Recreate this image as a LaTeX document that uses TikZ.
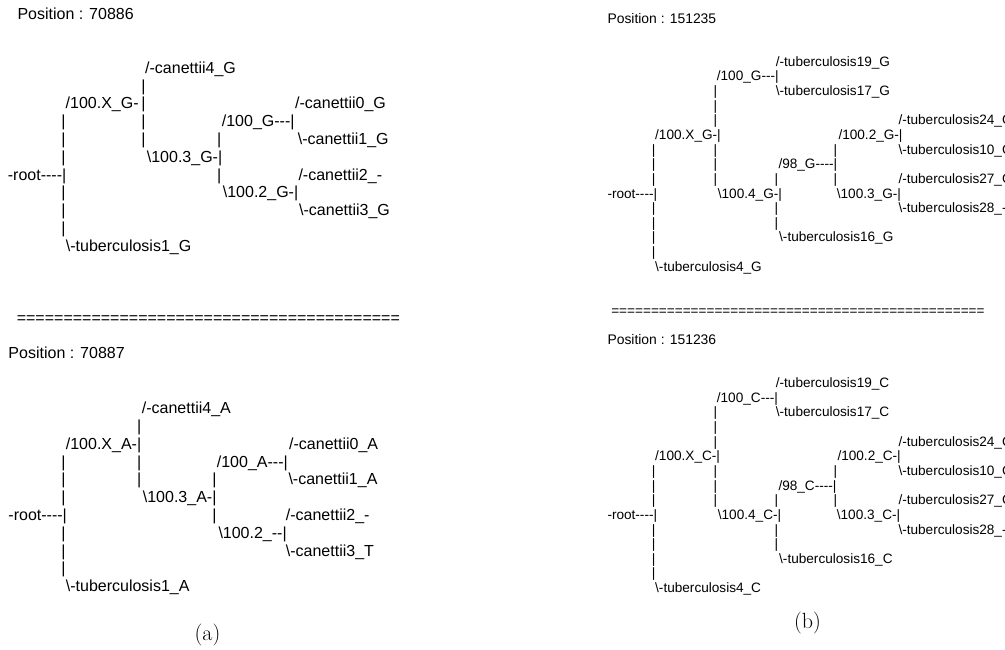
\documentclass[tikz,border=0pt]{standalone}
\usepackage{fontspec}
\newfontfamily\asc{Liberation Sans}
\newcommand\bs{\textbackslash}
\newcommand\fr[5]{\node[#1] (#2) at (#3,{\rbase+\rstep*(#4)}) {#5};}
\tikzset{
  L/.style={font=\asc\fontsize{16}{17}\selectfont, inner sep=0pt, anchor=base west},
  R/.style={font=\asc\fontsize{13.6}{15}\selectfont, inner sep=0pt, anchor=base west},
  P/.style={font=\asc\fontsize{13.9}{15}\selectfont, inner sep=0pt, anchor=base west},
  captext/.style={font=\fontsize{22}{24}\selectfont, inner sep=0pt, anchor=base},
}
\begin{document}
\begin{tikzpicture}[x=1pt,y=-1pt]
\useasboundingbox (0,0) rectangle (1005,649);
\clip (0,0) rectangle (1005,649);
% ---------------- left top ----------------
\node[L] (plt) at (17.3,19.8) {Position : 70886};
\def\rbase{73.3}\def\rstep{17.8}
\fr{L}{lt0}{145}{0}{/-canettii4\_G}
\fr{L}{lt1a}{141.2}{1}{|}
\fr{L}{lt2a}{65.5}{2}{/100.X\_G-}
\fr{L}{lt2b}{141.2}{2}{|}
\fr{L}{lt2c}{295}{2}{/-canettii0\_G}
\fr{L}{lt3a}{61.2}{3}{|}
\fr{L}{lt3b}{141.2}{3}{|}
\fr{L}{lt3c}{221.7}{3}{/100\_G---|}
\fr{L}{lt4a}{61.2}{4}{|}
\fr{L}{lt4b}{141.2}{4}{|}
\fr{L}{lt4c}{217}{4}{|}
\fr{L}{lt4d}{297.7}{4}{\bs-canettii1\_G}
\fr{L}{lt5a}{61.2}{5}{|}
\fr{L}{lt5b}{146.7}{5}{\bs100.3\_G-|}
\fr{L}{lt6a}{7.7}{6}{-root----|}
\fr{L}{lt6b}{217}{6}{|}
\fr{L}{lt6c}{298.3}{6}{/-canettii2\_-}
\fr{L}{lt7a}{61.2}{7}{|}
\fr{L}{lt7b}{222.7}{7}{\bs100.2\_G-|}
\fr{L}{lt8a}{61.2}{8}{|}
\fr{L}{lt8b}{299}{8}{\bs-canettii3\_G}
\fr{L}{lt9a}{61.2}{9}{|}
\fr{L}{lt10}{65.7}{10}{\bs-tuberculosis1\_G}
\node[L] (eql) at (16.6,323.4) {=========================================};
% ---------------- left bottom ----------------
\node[L] (plb) at (8.3,358.8) {Position : 70887};
\def\rbase{413.7}
\fr{L}{lb0}{141.7}{0}{/-canettii4\_A}
\fr{L}{lb1a}{137}{1}{|}
\fr{L}{lb2a}{65.7}{2}{/100.X\_A-|}
\fr{L}{lb2c}{289}{2}{/-canettii0\_A}
\fr{L}{lb3a}{61.2}{3}{|}
\fr{L}{lb3b}{137}{3}{|}
\fr{L}{lb3c}{216.7}{3}{/100\_A---|}
\fr{L}{lb4a}{61.2}{4}{|}
\fr{L}{lb4b}{137}{4}{|}
\fr{L}{lb4c}{212.2}{4}{|}
\fr{L}{lb4d}{288.3}{4}{\bs-canettii1\_A}
\fr{L}{lb5a}{61.2}{5}{|}
\fr{L}{lb5b}{142.7}{5}{\bs100.3\_A-|}
\fr{L}{lb6a}{8.3}{6}{-root----|}
\fr{L}{lb6b}{212.2}{6}{|}
\fr{L}{lb6c}{285.7}{6}{/-canettii2\_-}
\fr{L}{lb7a}{61.2}{7}{|}
\fr{L}{lb7b}{218.3}{7}{\bs100.2\_--|}
\fr{L}{lb8a}{61.2}{8}{|}
\fr{L}{lb8b}{285.7}{8}{\bs-canettii3\_T}
\fr{L}{lb9a}{61.2}{9}{|}
\fr{L}{lb10}{65.7}{10}{\bs-tuberculosis1\_A}
\node[captext] (capa) at (207.5,640.5) {(a)};
% ---------------- right top ----------------
\node[P] (prt) at (607.3,23.3) {Position : 151235};
\def\rbase{66.3}\def\rstep{14.64}
\fr{R}{rt0}{775.7}{0}{/-tuberculosis19\_G}
\fr{R}{rt1}{716.7}{1}{/100\_G---|}
\fr{R}{rt2a}{713.3}{2}{|}
\fr{R}{rt2b}{775.7}{2}{\bs-tuberculosis17\_G}
\fr{R}{rt3a}{713.3}{3}{|}
\fr{R}{rt4a}{713.3}{4}{|}
\fr{R}{rt4b}{898.3}{4}{/-tuberculosis24\_G}
\fr{R}{rt5a}{655}{5}{/100.X\_G-|}
\fr{R}{rt5b}{838.3}{5}{/100.2\_G-|}
\fr{R}{rt6a}{651.6}{6}{|}
\fr{R}{rt6b}{713.3}{6}{|}
\fr{R}{rt6c}{833.3}{6}{|}
\fr{R}{rt6d}{898.3}{6}{\bs-tuberculosis10\_G}
\fr{R}{rt7a}{651.6}{7}{|}
\fr{R}{rt7b}{713.3}{7}{|}
\fr{R}{rt7c}{778.3}{7}{/98\_G----|}
\fr{R}{rt8a}{651.6}{8}{|}
\fr{R}{rt8b}{713.3}{8}{|}
\fr{R}{rt8c}{774.3}{8}{|}
\fr{R}{rt8d}{833.3}{8}{|}
\fr{R}{rt8e}{898.3}{8}{/-tuberculosis27\_G}
\fr{R}{rt9a}{607.3}{9}{-root----|}
\fr{R}{rt9b}{717.7}{9}{\bs100.4\_G-|}
\fr{R}{rt9c}{836.7}{9}{\bs100.3\_G-|}
\fr{R}{rt10a}{651.6}{10}{|}
\fr{R}{rt10b}{774.3}{10}{|}
\fr{R}{rt10c}{898.3}{10}{\bs-tuberculosis28\_-}
\fr{R}{rt11a}{651.6}{11}{|}
\fr{R}{rt11b}{774.3}{11}{|}
\fr{R}{rt12a}{651.6}{12}{|}
\fr{R}{rt12b}{779}{12}{\bs-tuberculosis16\_G}
\fr{R}{rt13a}{651.6}{13}{|}
\fr{R}{rt14}{655}{14}{\bs-tuberculosis4\_G}
\node[R] (eqr) at (611.1,315.7) {===============================================};
% ---------------- right bottom ----------------
\node[P] (prb) at (607.3,344.6) {Position : 151236};
\def\rbase{387.6}
\fr{R}{rb0}{775.7}{0}{/-tuberculosis19\_C}
\fr{R}{rb1}{716.7}{1}{/100\_C---|}
\fr{R}{rb2a}{713.3}{2}{|}
\fr{R}{rb2b}{775.7}{2}{\bs-tuberculosis17\_C}
\fr{R}{rb3a}{713.3}{3}{|}
\fr{R}{rb4a}{713.3}{4}{|}
\fr{R}{rb4b}{898.3}{4}{/-tuberculosis24\_C}
\fr{R}{rb5a}{655}{5}{/100.X\_C-|}
\fr{R}{rb5b}{837.3}{5}{/100.2\_C-|}
\fr{R}{rb6a}{651.6}{6}{|}
\fr{R}{rb6b}{713.3}{6}{|}
\fr{R}{rb6c}{833.3}{6}{|}
\fr{R}{rb6d}{898.3}{6}{\bs-tuberculosis10\_C}
\fr{R}{rb7a}{651.6}{7}{|}
\fr{R}{rb7b}{713.3}{7}{|}
\fr{R}{rb7c}{778.3}{7}{/98\_C----|}
\fr{R}{rb8a}{651.6}{8}{|}
\fr{R}{rb8b}{713.3}{8}{|}
\fr{R}{rb8c}{774.3}{8}{|}
\fr{R}{rb8d}{833.3}{8}{|}
\fr{R}{rb8e}{898.3}{8}{/-tuberculosis27\_C}
\fr{R}{rb9a}{607.3}{9}{-root----|}
\fr{R}{rb9b}{717.7}{9}{\bs100.4\_C-|}
\fr{R}{rb9c}{836.7}{9}{\bs100.3\_C-|}
\fr{R}{rb10a}{651.6}{10}{|}
\fr{R}{rb10b}{774.3}{10}{|}
\fr{R}{rb10c}{898.3}{10}{\bs-tuberculosis28\_-}
\fr{R}{rb11a}{651.6}{11}{|}
\fr{R}{rb11b}{774.3}{11}{|}
\fr{R}{rb12a}{651.6}{12}{|}
\fr{R}{rb12b}{779}{12}{\bs-tuberculosis16\_C}
\fr{R}{rb13a}{651.6}{13}{|}
\fr{R}{rb14}{655}{14}{\bs-tuberculosis4\_C}
\node[captext] (capb) at (807.5,628) {(b)};
\end{tikzpicture}
\end{document}
